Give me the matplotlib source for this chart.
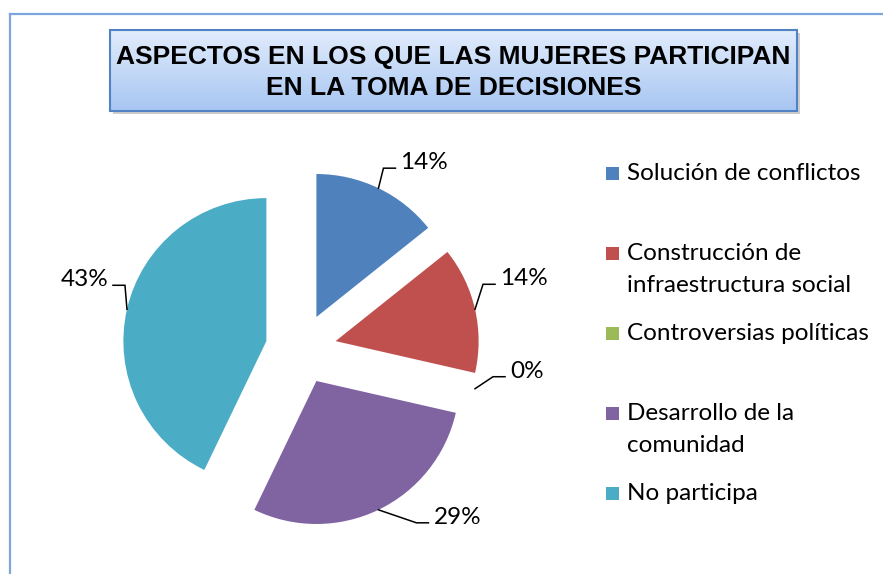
import numpy as np
import matplotlib
matplotlib.use("Agg")
import matplotlib.pyplot as plt
from matplotlib import font_manager
from matplotlib.patches import Rectangle

W, H = 883, 574

# data
categories = ["Solución de conflictos",
              "Construcción de\ninfraestructura social",
              "Controversias políticas",
              "Desarrollo de la\ncomunidad",
              "No participa"]
counts = [1, 1, 0, 2, 3]
pct_labels = ["14%", "14%", "0%", "29%", "43%"]
colors = ["#4F81BD", "#C0504D", "#9BBB59", "#8064A2", "#4BACC6"]
title_lines = ["ASPECTOS EN LOS QUE LAS MUJERES PARTICIPAN",
               "EN LA TOMA DE DECISIONES"]

# leader line elbows (offset from wedge edge, px, y down)
elbow_off = [(5, -20), (8, -25), (18, -12), (38, 13), (-2, -24)]
leg_y = [173, 253, 333, 413, 493]

names = {f.name for f in font_manager.fontManager.ttflist}
body_font = ["Lato", "DejaVu Sans"]
if "Liberation Sans Narrow" in names:
    title_font, title_size = ["Liberation Sans Narrow", "DejaVu Sans"], 21
else:
    title_font, title_size = ["Liberation Sans", "DejaVu Sans"], 19

def Y(y):
    return H - y

fig = plt.figure(figsize=(W / 100, H / 100), dpi=100)
ax = fig.add_axes([0, 0, 1, 1])

# explode is in data units (px here)
wedges, _ = ax.pie(counts, colors=colors, startangle=90, counterclock=False,
                   explode=[35.5] * 5, center=(301, Y(349)), radius=143,
                   wedgeprops=dict(linewidth=0))
ax.set_xlim(0, W)
ax.set_ylim(0, H)
ax.set_aspect("equal")
ax.axis("off")

# data labels with elbow leader lines
for w, lab, (dx, dy) in zip(wedges, pct_labels, elbow_off):
    t = np.deg2rad((w.theta1 + w.theta2) / 2)
    x0 = w.center[0] + w.r * np.cos(t)
    y0 = w.center[1] + w.r * np.sin(t)
    x1, y1 = x0 + dx, y0 - dy
    side = 1 if dx >= 0 else -1
    x2 = x1 + side * 12
    ax.plot([x0, x1, x2], [y0, y1, y1], color="black", lw=1.1,
            solid_joinstyle="miter")
    ax.text(x2 + side * 5, y1 - 1, lab, ha="left" if side > 0 else "right",
            va="baseline", fontsize=17.5, family=body_font)

# legend
for c, cat, yc in zip(colors, categories, leg_y):
    ax.add_patch(Rectangle((606, Y(yc) - 6.5), 13, 13, color=c, lw=0))
    for i, line in enumerate(cat.split("\n")):
        ax.text(627, Y(yc + 7 + 32 * i), line, ha="left", va="baseline",
                fontsize=17.5, family=body_font)

# title box with gradient and shadow
bx0, bx1, by0, by1 = 110, 797, 30, 111
ax.add_patch(Rectangle((bx0 + 3, Y(by1) - 3), bx1 - bx0, by1 - by0,
                       color="#9a9a9a", alpha=0.5, lw=0))
grad = np.linspace(0, 1, 100)[:, None]
cmap = matplotlib.colors.LinearSegmentedColormap.from_list(
    "g", ["#e2ecfc", "#a7c6f2"])
ax.imshow(grad, cmap=cmap, aspect="auto",
          extent=(bx0, bx1, Y(by1), Y(by0)), origin="upper", zorder=2)
ax.add_patch(Rectangle((bx0, Y(by1)), bx1 - bx0, by1 - by0, fill=False,
                       edgecolor="#5082c4", lw=1.5, zorder=3))
for i, line in enumerate(title_lines):
    ax.text((bx0 + bx1) / 2, Y(64 + 31 * i), line, ha="center", va="baseline",
            fontsize=title_size, fontweight="bold", family=title_font, zorder=4)

# chart area border (only top and left visible)
ax.plot([10, W], [Y(14), Y(14)], color="#7ea6dc", lw=1.6, clip_on=False)
ax.plot([10, 10], [Y(14), 0], color="#7ea6dc", lw=1.6, clip_on=False)

ax.set_xlim(0, W)
ax.set_ylim(0, H)
fig.savefig("out.png", dpi=100)
